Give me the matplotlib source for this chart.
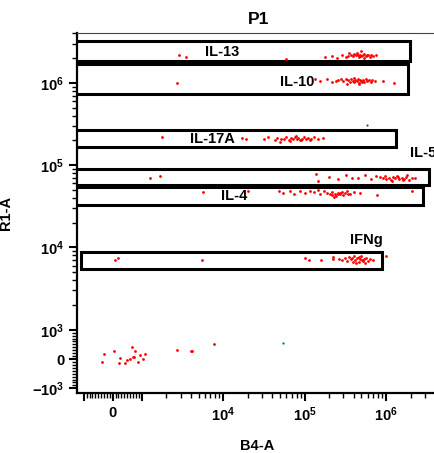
import matplotlib
matplotlib.use("Agg")
import matplotlib.pyplot as plt
from matplotlib.patches import Rectangle
from matplotlib.ticker import FixedLocator

# gates (rectangles) : name, x range, y range
gate_names = ["IL-13", "IL-10", "IL-17A", "IL-5", "IL-4", "IFNg"]
gate_x0 = [-2000, -2000, -2000, -2000, -2000, -1090]
gate_x1 = [1.95e6, 1.87e6, 1.31e6, 3.41e6, 2.83e6, 8.87e5]
gate_y0 = [1.82e6, 7.28e5, 1.64e5, 5.70e4, 3.32e4, 5.50e3]
gate_y1 = [3.19e6, 1.71e6, 2.67e5, 8.93e4, 5.43e4, 8.77e3]

# events, per population
il13_x = [2.9e3, 3.5e3, 5.9e4, 1.8e5, 2.2e5, 2.5e5, 2.9e5, 3.2e5, 3.5e5, 3.7e5,
          3.9e5, 4.1e5, 4.3e5, 4.5e5, 4.6e5, 4.8e5, 5.0e5, 5.2e5, 5.4e5, 5.6e5,
          5.8e5, 6.0e5, 6.3e5, 6.6e5, 7.0e5, 7.5e5, 4.4e5, 4.9e5, 5.3e5, 3.4e5]
il13_y = [2.2e6, 2.05e6, 1.95e6, 2.05e6, 2.1e6, 2.0e6, 2.15e6, 2.05e6, 2.3e6, 2.2e6,
          2.1e6, 2.25e6, 2.15e6, 2.2e6, 2.05e6, 2.2e6, 2.1e6, 2.15e6, 2.25e6, 2.1e6,
          2.2e6, 2.15e6, 2.05e6, 2.2e6, 2.1e6, 2.15e6, 2.3e6, 2.4e6, 2.0e6, 2.1e6]

il10_x = [2.7e3, 1.35e5, 1.55e5, 1.9e5, 2.2e5, 2.6e5, 2.8e5, 3.0e5, 3.2e5, 3.4e5,
          3.6e5, 3.7e5, 3.9e5, 4.1e5, 4.2e5, 4.4e5, 4.5e5, 4.7e5, 4.8e5, 5.0e5,
          5.2e5, 5.4e5, 5.6e5, 5.9e5, 6.2e5, 6.5e5, 6.8e5, 7.3e5, 9.1e5, 1.25e6,
          4.0e5, 4.6e5, 5.1e5, 3.3e5, 2.4e5]
il10_y = [1.0e6, 1.12e6, 1.05e6, 1.1e6, 1.03e6, 1.08e6, 1.12e6, 1.05e6, 1.1e6, 1.07e6,
          1.03e6, 1.1e6, 1.06e6, 1.02e6, 1.09e6, 1.05e6, 1.12e6, 1.0e6, 1.07e6, 1.04e6,
          1.08e6, 1.03e6, 1.1e6, 1.05e6, 1.07e6, 1.02e6, 1.09e6, 1.06e6, 1.04e6, 1.0e6,
          1.15e6, 0.98e6, 1.02e6, 0.97e6, 1.05e6]

il17_x = [1.8e3, 1.7e4, 1.9e4, 3.2e4, 3.6e4, 4.3e4, 4.6e4, 5.2e4, 5.6e4, 6.0e4,
          6.4e4, 6.8e4, 7.2e4, 7.6e4, 8.0e4, 8.4e4, 8.8e4, 9.3e4, 9.8e4, 1.05e5,
          1.1e5, 1.2e5, 1.3e5, 1.45e5, 1.7e5, 6.6e4, 7.9e4, 9.0e4, 5.0e4, 1.15e5]
il17_y = [2.2e5, 2.15e5, 2.05e5, 2.1e5, 2.2e5, 2.0e5, 2.15e5, 2.05e5, 2.1e5, 2.2e5,
          2.0e5, 2.15e5, 2.1e5, 2.2e5, 2.05e5, 2.15e5, 2.0e5, 2.1e5, 2.2e5, 2.1e5,
          2.15e5, 2.05e5, 2.2e5, 2.1e5, 2.15e5, 1.95e5, 2.25e5, 2.0e5, 1.9e5, 2.0e5]

il5_x = [1.25e3, 1.7e3, 1.4e5, 1.45e5, 2.0e5, 2.6e5, 3.2e5, 3.8e5, 4.5e5, 5.5e5,
         6.5e5, 7.5e5, 8.5e5, 9.2e5, 1.0e6, 1.08e6, 1.15e6, 1.22e6, 1.3e6, 1.38e6,
         1.45e6, 1.55e6, 1.65e6, 1.75e6, 1.9e6, 2.1e6, 2.3e6, 1.2e6, 1.4e6, 1.6e6,
         9.8e5, 1.8e6]
il5_y = [7.0e4, 7.3e4, 7.8e4, 6.5e4, 7.2e4, 6.8e4, 7.5e4, 6.9e4, 7.0e4, 7.6e4,
         6.7e4, 7.3e4, 7.1e4, 6.9e4, 6.8e4, 7.0e4, 6.6e4, 7.2e4, 6.9e4, 7.4e4,
         6.7e4, 7.0e4, 6.8e4, 7.1e4, 6.6e4, 7.0e4, 6.9e4, 6.5e4, 7.2e4, 6.6e4,
         7.3e4, 7.5e4]

il4_x = [5.6e3, 2.0e4, 4.8e4, 5.5e4, 6.6e4, 7.5e4, 8.8e4, 1.0e5, 1.16e5, 1.3e5,
         1.54e5, 1.75e5, 1.9e5, 2.05e5, 2.2e5, 2.35e5, 2.45e5, 2.55e5, 2.7e5, 2.85e5,
         3.0e5, 3.1e5, 3.3e5, 3.6e5, 4.0e5, 4.8e5, 7.7e5, 2.07e6, 2.3e5, 2.6e5,
         2.15e5, 2.75e5, 1.45e5, 3.4e5]
il4_y = [4.7e4, 4.9e4, 4.9e4, 4.6e4, 4.8e4, 4.5e4, 4.9e4, 4.6e4, 4.8e4, 4.7e4,
         4.5e4, 4.8e4, 4.6e4, 4.4e4, 4.7e4, 4.5e4, 4.2e4, 4.6e4, 4.4e4, 4.7e4,
         4.3e4, 4.6e4, 4.8e4, 4.5e4, 4.7e4, 4.6e4, 4.3e4, 4.9e4, 4.1e4, 4.4e4,
         4.35e4, 4.55e4, 4.95e4, 4.4e4]

ifng_x = [80, 170, 5.5e3, 1.02e5, 1.14e5, 1.6e5, 2.25e5, 2.25e5, 2.64e5, 2.9e5,
          3.1e5, 3.3e5, 3.5e5, 3.7e5, 3.9e5, 4.1e5, 4.2e5, 4.4e5, 4.6e5, 4.8e5,
          5.0e5, 5.2e5, 5.4e5, 5.7e5, 6.0e5, 6.4e5, 6.9e5, 4.3e5, 4.7e5, 5.1e5,
          3.8e5, 5.5e5, 1.0e6]
ifng_y = [7.0e3, 7.4e3, 7.0e3, 7.4e3, 7.0e3, 7.0e3, 7.6e3, 7.2e3, 7.3e3, 7.1e3,
          7.5e3, 6.9e3, 7.6e3, 7.2e3, 6.7e3, 7.8e3, 7.0e3, 7.4e3, 6.6e3, 7.3e3,
          7.9e3, 6.9e3, 7.2e3, 7.5e3, 6.8e3, 7.3e3, 7.1e3, 6.5e3, 7.7e3, 7.0e3,
          7.4e3, 6.4e3, 7.9e3]

neg_x = [-379, -290, 45, 252, 228, 424, 503, 597, 655, 710,
         769, 734, 880, 938, 1030, 1100, 2690, 3990, 4180, 7710]
neg_y = [-96, 189, 286, 46, -132, -132, -50, -14, 414, 82,
         261, 82, -96, 143, 0, 189, 321, 286, 286, 500]

# two green events
green_x = [5.8e5, 5.4e4]
green_y = [3.1e5, 536]

# label anchor for each gate
label_x = [9.7e3, 8.05e4, 7.3e3, 1.96e6, 1.36e4, 5.8e5]
label_y = [2.36e6, 1.03e6, 2.07e5, 1.41e5, 4.19e4, 1.22e4]
label_ha = ["center", "center", "center", "left", "center", "center"]

plt.rcParams["font.family"] = "Liberation Sans"
plt.rcParams["font.weight"] = "bold"
plt.rcParams["mathtext.fontset"] = "custom"
plt.rcParams["mathtext.bf"] = "Liberation Sans:bold"
plt.rcParams["mathtext.rm"] = "Liberation Sans:bold"
plt.rcParams["mathtext.default"] = "bf"

fig = plt.figure(figsize=(4.35, 4.53), dpi=100)
ax = fig.add_axes([76.7 / 435, 1 - 393.3 / 453, 363.3 / 435, 360.6 / 453])

ax.set_xscale("symlog", linthresh=1000, linscale=0.32)
ax.set_yscale("symlog", linthresh=1000, linscale=0.32)
ax.set_xlim(-1220, 4.6e6)
ax.set_ylim(-1150, 4.06e6)

# events
for xs, ys in [(il13_x, il13_y), (il10_x, il10_y), (il17_x, il17_y),
               (il5_x, il5_y), (il4_x, il4_y), (ifng_x, ifng_y), (neg_x, neg_y)]:
    ax.plot(xs, ys, "o", color="red", ms=2.0, mew=0, ls="none")
ax.plot(green_x, green_y, "o", color="green", ms=1.6, mew=0, ls="none")

# gates
for i in range(len(gate_names)):
    rect = Rectangle((gate_x0[i], gate_y0[i]), gate_x1[i] - gate_x0[i],
                     gate_y1[i] - gate_y0[i], fill=False, ec="black", lw=2.2)
    ax.add_patch(rect)
    ax.text(label_x[i], label_y[i], gate_names[i], ha=label_ha[i], va="center",
            fontsize=10.5, fontweight="bold", clip_on=False)

# axis ticks like a flow cytometry biex axis
major = [-1000, 0, 1000, 1e4, 1e5, 1e6]
minor = [k * 100 for k in range(-9, 10) if k != 0]
for d in [1e3, 1e4, 1e5, 1e6]:
    minor += [k * d for k in range(2, 10)]
ax.xaxis.set_major_locator(FixedLocator(major))
ax.yaxis.set_major_locator(FixedLocator(major))
ax.xaxis.set_minor_locator(FixedLocator(minor))
ax.yaxis.set_minor_locator(FixedLocator(minor))
ax.set_xticklabels(["", "0", "", r"$10^{4}$", r"$10^{5}$", r"$10^{6}$"])
ax.set_yticklabels([r"$-10^{3}$", "0", r"$10^{3}$", r"$10^{4}$", r"$10^{5}$", r"$10^{6}$"])

ax.tick_params(which="major", length=6, width=1.5, labelsize=10.5, pad=3)
ax.tick_params(which="minor", length=3.5, width=1)

ax.spines["right"].set_visible(False)
ax.spines["top"].set_linewidth(0.8)
ax.spines["top"].set_color("#444444")
ax.spines["left"].set_linewidth(1.6)
ax.spines["bottom"].set_linewidth(1.6)

ax.set_title("P1", fontsize=12.5, fontweight="bold", pad=6)
ax.set_xlabel("B4-A", fontsize=10.5, fontweight="bold")
ax.set_ylabel("R1-A", fontsize=10.5, fontweight="bold")
ax.xaxis.set_label_coords(0.496, -0.126)
ax.yaxis.set_label_coords(-0.175, 0.5)

fig.savefig("out.png", dpi=100)
